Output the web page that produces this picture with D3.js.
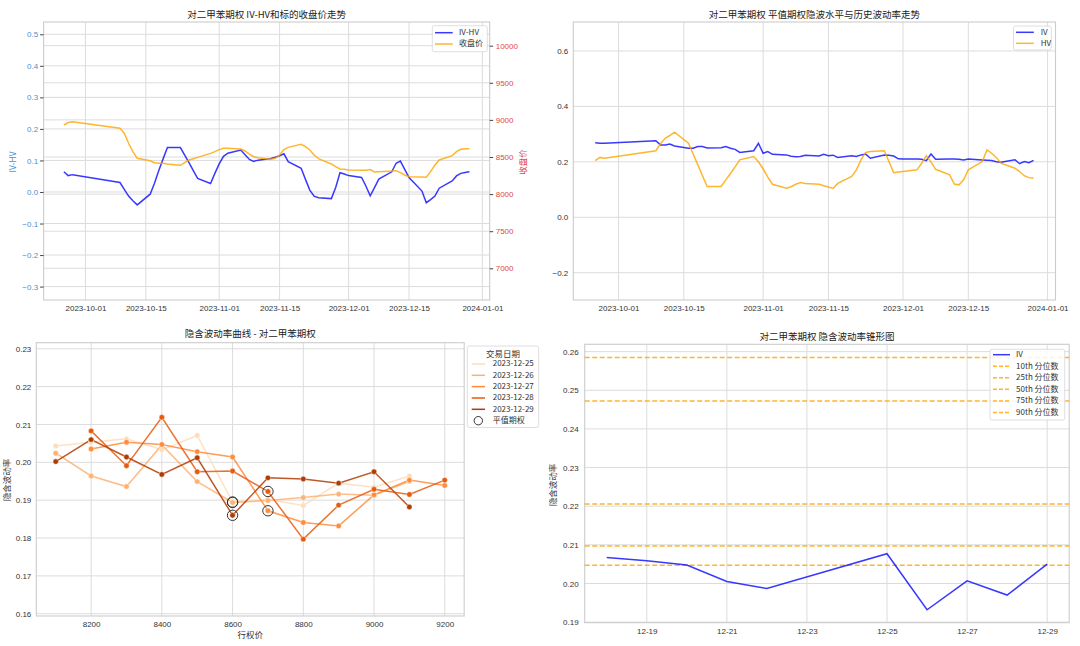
<!DOCTYPE html>
<html><head><meta charset="utf-8">
<script src="https://cdn.jsdelivr.net/npm/d3@7"></script>
<style>
body{margin:0;background:#fff;}
svg{font-family:"Noto Sans CJK SC","Noto Sans",sans-serif;}
</style></head><body>
<svg id="c" width="1080" height="646"></svg>
<script>
// ---------------- data ----------------
const dates = ['2023-09-26','2023-09-27','2023-09-28',
'2023-10-09','2023-10-10','2023-10-11','2023-10-12','2023-10-13',
'2023-10-16','2023-10-17','2023-10-18','2023-10-19','2023-10-20',
'2023-10-23','2023-10-24','2023-10-25','2023-10-26','2023-10-27',
'2023-10-30','2023-10-31','2023-11-01','2023-11-02','2023-11-03',
'2023-11-06','2023-11-07','2023-11-08','2023-11-09','2023-11-10',
'2023-11-13','2023-11-14','2023-11-15','2023-11-16','2023-11-17',
'2023-11-20','2023-11-21','2023-11-22','2023-11-23','2023-11-24',
'2023-11-27','2023-11-28','2023-11-29','2023-11-30','2023-12-01',
'2023-12-04','2023-12-05','2023-12-06','2023-12-07','2023-12-08',
'2023-12-11','2023-12-12','2023-12-13','2023-12-14','2023-12-15',
'2023-12-18','2023-12-19','2023-12-20','2023-12-21','2023-12-22',
'2023-12-25','2023-12-26','2023-12-27','2023-12-28','2023-12-29'];

const ivHv = [0.064,0.052,0.055,
0.030,0.008,-0.013,-0.028,-0.041,
-0.007,0.028,0.068,0.105,0.141,
0.141,0.117,0.093,0.068,0.043,
0.027,0.059,0.089,0.113,0.123,
0.133,0.118,0.103,0.097,0.101,
0.106,0.110,0.115,0.121,0.096,
0.075,0.040,0.006,-0.013,-0.018,
-0.021,0.014,0.061,0.057,0.052,
0.046,0.019,-0.012,0.014,0.041,
0.064,0.091,0.098,0.072,0.046,
0.003,-0.034,-0.024,-0.013,0.012,
0.035,0.051,0.059,0.062,0.064];

const closePrice = [8931,8965,8976,
8887,8820,8685,8573,8482,
8450,8423,8415,8415,8405,
8388,8423,8459,8477,8495,
8549,8572,8599,8617,8617,
8608,8581,8540,8504,8490,
8469,8482,8527,8600,8630,
8671,8640,8594,8527,8478,
8406,8370,8338,8334,8325,
8321,8321,8330,8298,8302,
8311,8316,8289,8258,8235,
8231,8226,8302,8392,8460,
8518,8572,8604,8612,8612];

const iv = [0.269,0.267,0.267,
0.276,0.261,0.261,0.264,0.257,
0.249,0.249,0.255,0.255,0.250,
0.251,0.255,0.249,0.245,0.234,
0.240,0.267,0.231,0.237,0.227,
0.225,0.220,0.218,0.219,0.224,
0.221,0.227,0.222,0.224,0.216,
0.222,0.219,0.225,0.228,0.213,
0.225,0.224,0.221,0.211,0.210,
0.210,0.209,0.204,0.228,0.209,
0.210,0.210,0.209,0.207,0.210,
0.2067,0.2059,0.2048,0.2005,0.1987,
0.2077,0.1932,0.2007,0.1970,0.2050];

const hv = [0.204,0.216,0.213,
0.240,0.265,0.285,0.295,0.307,
0.267,0.228,0.189,0.150,0.111,
0.111,0.135,0.158,0.182,0.207,
0.219,0.200,0.175,0.145,0.119,
0.105,0.110,0.119,0.125,0.122,
0.119,0.114,0.109,0.104,0.122,
0.147,0.171,0.207,0.234,0.237,
0.240,0.200,0.161,0.163,0.165,
0.171,0.195,0.222,0.200,0.173,
0.153,0.120,0.117,0.135,0.171,
0.201,0.243,0.231,0.216,0.195,
0.177,0.165,0.150,0.143,0.141];

// smile (bottom-left)
const strikes = [8100,8200,8300,8400,8500,8600,8700,8800,8900,9000,9100,9200];
const smileDates = ['2023-12-25','2023-12-26','2023-12-27','2023-12-28','2023-12-29'];
const smile1225 = [0.2043,0.2053,0.2062,0.2033,0.2071,0.1895,0.1902,0.1886,0.1945,0.1934,0.1964,null];
const smile1226 = [0.2024,0.1964,0.1936,0.2046,0.1949,0.1894,0.1899,0.1907,0.1916,0.1913,0.1950,null];
const smile1227 = [null,0.2035,0.2053,0.2047,0.2028,0.2014,0.1872,0.1841,0.1832,0.1914,0.1953,0.1939];
const smile1228 = [null,0.2083,0.1991,0.2119,0.1975,0.1977,0.1923,0.1797,0.1887,0.1929,0.1915,0.1953];
const smile1229 = [0.2002,0.2060,0.2014,0.1968,0.2012,0.1860,0.1959,0.1956,0.1945,0.1975,0.1882,null];
const atmStrikes = [8600,8600,8700,8700,8600];

// cone (bottom-right)
const coneDates = dates.slice(-10);
const coneIv = iv.slice(-10);
const quantileLabels = ['10th 分位数','25th 分位数','50th 分位数','75th 分位数','90th 分位数'];
const quantileValues = [0.2047,0.2097,0.2206,0.2472,0.2585];

// ticks
const dateTicks = ['2023-10-01','2023-10-15','2023-11-01','2023-11-15','2023-12-01','2023-12-15','2024-01-01'];
const tlLeftTicks = [-0.3,-0.2,-0.1,0.0,0.1,0.2,0.3,0.4,0.5];
const tlRightTicks = [7000,7500,8000,8500,9000,9500,10000];
const trTicks = [-0.2,0.0,0.2,0.4,0.6];
const blYTicks = [0.16,0.17,0.18,0.19,0.20,0.21,0.22,0.23];
const blXTicks = [8200,8400,8600,8800,9000,9200];
const brYTicks = [0.19,0.20,0.21,0.22,0.23,0.24,0.25,0.26];
const brXTicks = ['2023-12-19','2023-12-21','2023-12-23','2023-12-25','2023-12-27','2023-12-29'];

// ---------------- drawing ----------------
const svg = d3.select('#c');
const parse = d3.timeParse('%Y-%m-%d');
const D = dates.map(parse);
const GRID = '#dcdcdc', SPINE = '#cccccc', TXT = '#333333';
const BLUE = 'rgba(0,0,255,0.78)', ORANGE = 'rgba(255,165,0,0.82)';
const DAY = 86400000;

function padTime(a, b, f){ const s=(b-a)*f; return [new Date(+a-s), new Date(+b+s)]; }

function grid(g, box, xs, ys){
  xs.forEach(x=>g.append('line').attr('x1',x).attr('x2',x).attr('y1',box.t).attr('y2',box.b).attr('stroke',GRID).attr('stroke-width',1));
  ys.forEach(y=>g.append('line').attr('x1',box.l).attr('x2',box.r).attr('y1',y).attr('y2',y).attr('stroke',GRID).attr('stroke-width',1));
}
function frame(g, box){
  g.append('rect').attr('x',box.l).attr('y',box.t).attr('width',box.r-box.l).attr('height',box.b-box.t)
   .attr('fill','none').attr('stroke',SPINE).attr('stroke-width',1.1);
}
function styleAxis(sel, color, size){
  sel.select('.domain').remove();
  sel.selectAll('text').attr('fill',color||TXT).style('font-size',(size||8)+'px');
  sel.selectAll('line').attr('stroke','#444');
}
function title(x,y,t){ svg.append('text').attr('x',x).attr('y',y).attr('text-anchor','middle').attr('fill','#222').style('font-size','9.5px').text(t); }
function ylabel(x,y,t,color){ svg.append('text').attr('transform',`translate(${x},${y}) rotate(-90)`).attr('text-anchor','middle').attr('dominant-baseline','middle').attr('fill',color||TXT).style('font-size','8.5px').text(t); }
function legendBox(x0,y0,x1,y1){ svg.append('rect').attr('x',x0).attr('y',y0).attr('width',x1-x0).attr('height',y1-y0).attr('rx',2).attr('fill','rgba(255,255,255,0.85)').attr('stroke','#d5d5d5').attr('stroke-width',0.8); }
function legendLine(x0,x1,y,color,dash,w){ const l=svg.append('line').attr('x1',x0).attr('x2',x1).attr('y1',y).attr('y2',y).attr('stroke',color).attr('stroke-width',w||1.5); if(dash) l.attr('stroke-dasharray',dash); }
function legendText(x,y,t){ svg.append('text').attr('x',x).attr('y',y).attr('dominant-baseline','middle').attr('fill',TXT).style('font-size','8px').text(t); }

// ===== Top-left =====
{
  const box={l:43.6,r:489.7,t:22,b:300};
  const g=svg.append('g');
  const x=d3.scaleTime().domain(padTime(D[0],D[D.length-1],0.05)).range([box.l,box.r]);
  const yL=d3.scaleLinear().domain([-0.3425,0.539]).range([box.b,box.t]);
  const yR=d3.scaleLinear().domain([6573,10319]).range([box.b,box.t]);
  const dt=dateTicks.map(parse);
  grid(g,box,dt.map(x),tlLeftTicks.map(yL).concat(tlRightTicks.map(yR)));
  frame(g,box);
  g.append('path').datum(ivHv).attr('fill','none').attr('stroke',BLUE).attr('stroke-width',1.5)
    .attr('d',d3.line().x((d,i)=>x(D[i])).y(d=>yL(d)));
  g.append('path').datum(closePrice).attr('fill','none').attr('stroke',ORANGE).attr('stroke-width',1.5)
    .attr('d',d3.line().x((d,i)=>x(D[i])).y(d=>yR(d)));
  styleAxis(svg.append('g').attr('transform',`translate(${box.l},0)`).call(d3.axisLeft(yL).tickValues(tlLeftTicks).tickFormat(d3.format('.1f')).tickSize(3.5).tickPadding(2)),'#4a8fd0');
  styleAxis(svg.append('g').attr('transform',`translate(${box.r},0)`).call(d3.axisRight(yR).tickValues(tlRightTicks).tickFormat(d3.format('d')).tickSize(3.5).tickPadding(2.5)),'#e04848');
  styleAxis(svg.append('g').attr('transform',`translate(0,${box.b})`).call(d3.axisBottom(x).tickValues(dt).tickFormat(d3.timeFormat('%Y-%m-%d')).tickSize(0).tickPadding(5)));
  title((box.l+box.r)/2,17.5,'对二甲苯期权 IV-HV和标的收盘价走势');
  ylabel(13.7,162,'IV-HV','#4a8fd0');
  ylabel(524,162,'收盘价','#e04848');
  legendBox(432.3,25.7,487.3,51.7);
  legendLine(435,452.7,32.7,BLUE); legendText(459,33,'IV-HV');
  legendLine(435,452.7,44,ORANGE); legendText(459,44.3,'收盘价');
}

// ===== Top-right =====
{
  const box={l:573.3,r:1055.5,t:22,b:300};
  const g=svg.append('g');
  const x=d3.scaleTime().domain(padTime(D[0],D[D.length-1],0.05)).range([box.l,box.r]);
  const y=d3.scaleLinear().domain([-0.2985,0.7045]).range([box.b,box.t]);
  const dt=dateTicks.map(parse);
  grid(g,box,dt.map(x),trTicks.map(y));
  frame(g,box);
  g.append('path').datum(iv).attr('fill','none').attr('stroke',BLUE).attr('stroke-width',1.5)
    .attr('d',d3.line().x((d,i)=>x(D[i])).y(d=>y(d)));
  g.append('path').datum(hv).attr('fill','none').attr('stroke',ORANGE).attr('stroke-width',1.5)
    .attr('d',d3.line().x((d,i)=>x(D[i])).y(d=>y(d)));
  styleAxis(svg.append('g').attr('transform',`translate(${box.l},0)`).call(d3.axisLeft(y).tickValues(trTicks).tickFormat(d3.format('.1f')).tickSize(0).tickPadding(5)));
  styleAxis(svg.append('g').attr('transform',`translate(0,${box.b})`).call(d3.axisBottom(x).tickValues(dt).tickFormat(d3.timeFormat('%Y-%m-%d')).tickSize(0).tickPadding(5)));
  title((box.l+box.r)/2,17.5,'对二甲苯期权 平值期权隐波水平与历史波动率走势');
  legendBox(1013.5,26,1051.3,50);
  legendLine(1016,1033.8,32.3,BLUE); legendText(1040.7,32.6,'IV');
  legendLine(1016,1033.8,43.3,ORANGE); legendText(1040.7,43.6,'HV');
}

// ===== Bottom-left =====
{
  const box={l:36.3,r:464.2,t:342.7,b:616};
  const g=svg.append('g');
  const x=d3.scaleLinear().domain([8045,9255]).range([box.l,box.r]);
  const y=d3.scaleLinear().domain([0.1594,0.2316]).range([box.b,box.t]);
  grid(g,box,blXTicks.map(x),blYTicks.map(y));
  frame(g,box);
  const series=[smile1225,smile1226,smile1227,smile1228,smile1229];
  const lineCols=['#fedcba','#fdb272','#fd8c3b','#e8590c','#b13c02'];
  series.forEach((s,k)=>{
    const pts=s.map((v,i)=>({k:strikes[i],v})).filter(p=>p.v!==null);
    g.append('path').datum(pts).attr('fill','none').attr('stroke',lineCols[k]).attr('stroke-opacity',0.85).attr('stroke-width',1.5)
      .attr('d',d3.line().x(p=>x(p.k)).y(p=>y(p.v)));
  });
  series.forEach((s,k)=>{
    const pts=s.map((v,i)=>({k:strikes[i],v})).filter(p=>p.v!==null);
    g.selectAll(null).data(pts).enter().append('circle').attr('cx',p=>x(p.k)).attr('cy',p=>y(p.v)).attr('r',2.7)
      .attr('fill',lineCols[k]).attr('stroke','#fff').attr('stroke-width',0.4);
  });
  atmStrikes.forEach((st,k)=>{
    const v=series[k][strikes.indexOf(st)];
    g.append('circle').attr('cx',x(st)).attr('cy',y(v)).attr('r',5.2).attr('fill','none').attr('stroke','#333').attr('stroke-width',1);
  });
  styleAxis(svg.append('g').attr('transform',`translate(${box.l},0)`).call(d3.axisLeft(y).tickValues(blYTicks).tickFormat(d3.format('.2f')).tickSize(0).tickPadding(5)));
  styleAxis(svg.append('g').attr('transform',`translate(0,${box.b})`).call(d3.axisBottom(x).tickValues(blXTicks).tickFormat(d3.format('d')).tickSize(0).tickPadding(5)));
  title((box.l+box.r)/2,336.8,'隐含波动率曲线 - 对二甲苯期权');
  ylabel(8,480,'隐含波动率');
  svg.append('text').attr('x',(box.l+box.r)/2).attr('y',636).attr('text-anchor','middle').attr('dominant-baseline','middle').attr('fill',TXT).style('font-size','8.5px').text('行权价');
  legendBox(467.3,346,538.7,427.5);
  svg.append('text').attr('x',503).attr('y',354.3).attr('text-anchor','middle').attr('dominant-baseline','middle').attr('fill',TXT).style('font-size','8.5px').text('交易日期');
  const ly=[364,375.3,386.6,398,409.3];
  smileDates.forEach((d,k)=>{ legendLine(471.7,485,ly[k],lineCols[k]); legendText(492.7,ly[k]+0.3,d); });
  svg.append('circle').attr('cx',478.3).attr('cy',420.7).attr('r',4.2).attr('fill','none').attr('stroke','#333').attr('stroke-width',1);
  legendText(492.7,421,'平值期权');
}

// ===== Bottom-right =====
{
  const box={l:584.7,r:1069.2,t:344.3,b:622.7};
  const g=svg.append('g');
  const CD=coneDates.map(parse);
  const x=d3.scaleTime().domain(padTime(CD[0],CD[CD.length-1],0.05)).range([box.l,box.r]);
  const y=d3.scaleLinear().domain([0.18985,0.2619]).range([box.b,box.t]);
  const xt=brXTicks.map(parse);
  grid(g,box,xt.map(x),brYTicks.map(y));
  frame(g,box);
  quantileValues.forEach(q=>{
    g.append('line').attr('x1',box.l).attr('x2',box.r).attr('y1',y(q)).attr('y2',y(q))
      .attr('stroke',ORANGE).attr('stroke-width',1.5).attr('stroke-dasharray','5,2.5');
  });
  g.append('path').datum(coneIv).attr('fill','none').attr('stroke',BLUE).attr('stroke-width',1.5)
    .attr('d',d3.line().x((d,i)=>x(CD[i])).y(d=>y(d)));
  styleAxis(svg.append('g').attr('transform',`translate(${box.l},0)`).call(d3.axisLeft(y).tickValues(brYTicks).tickFormat(d3.format('.2f')).tickSize(0).tickPadding(6)));
  styleAxis(svg.append('g').attr('transform',`translate(0,${box.b})`).call(d3.axisBottom(x).tickValues(xt).tickFormat(d3.timeFormat('%m-%d')).tickSize(0).tickPadding(6)));
  title((box.l+box.r)/2,340,'对二甲苯期权 隐含波动率锥形图');
  ylabel(553.7,485,'隐含波动率');
  legendBox(990,349.3,1064.7,420);
  legendLine(993,1010,354.7,BLUE); legendText(1016,355,'IV');
  const qy=[366.3,377.8,389.3,401,412.6];
  quantileLabels.forEach((t,k)=>{ legendLine(993,1010,qy[k],ORANGE,'4,2'); legendText(1016,qy[k]+0.3,t); });
}
</script>
</body></html>
